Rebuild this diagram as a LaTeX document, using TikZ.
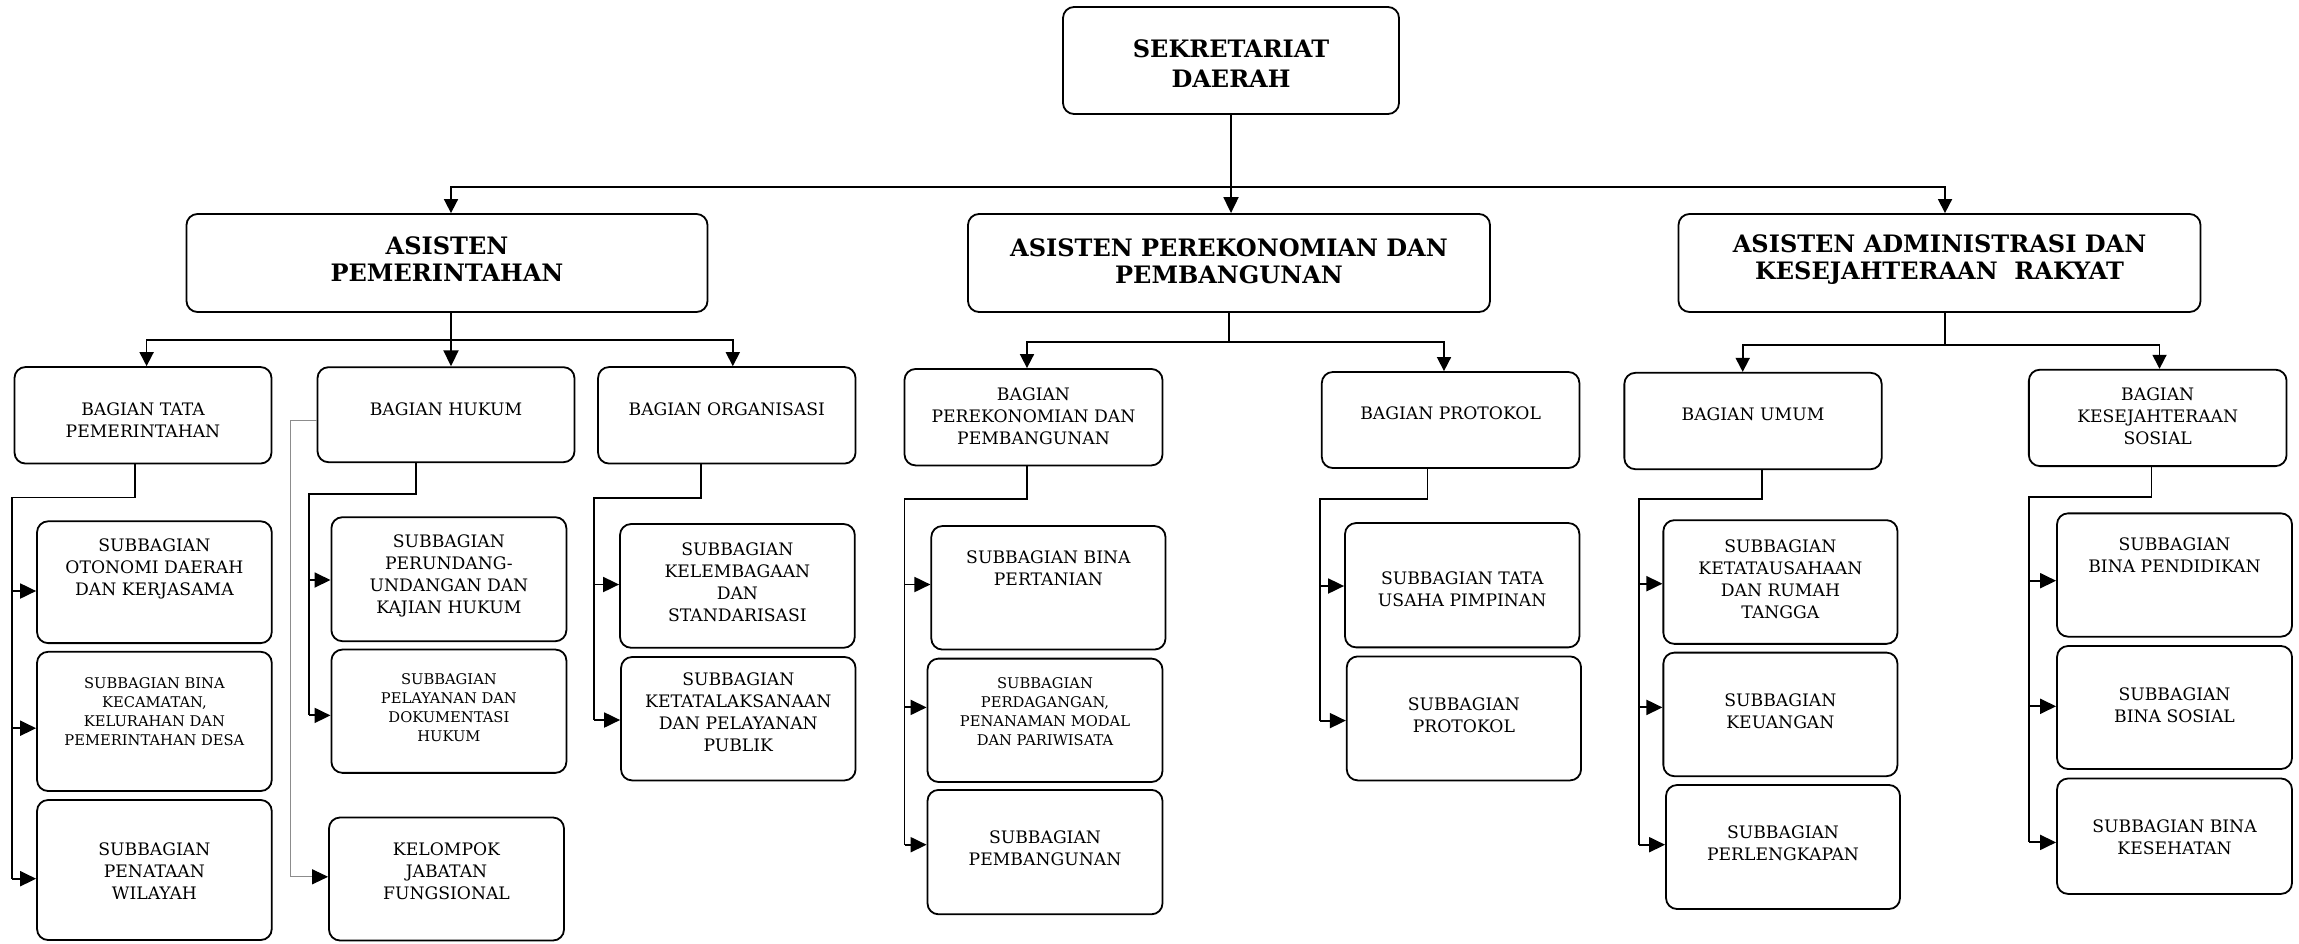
\documentclass[tikz,border=0pt]{standalone}
\usepackage{fontspec}
\setmainfont{DejaVu Serif}
\usetikzlibrary{arrows.meta}
\tikzset{
  kotak/.style={draw, rounded corners=11pt, line width=1.8pt, inner sep=0pt},
  induk/.style={font=\bfseries\fontsize{24}{30}\selectfont, align=center},
  judul/.style={font=\bfseries\fontsize{24}{27}\selectfont, align=center},
  besar/.style={font=\fontsize{17.2}{22}\selectfont, align=center},
  kecil/.style={font=\fontsize{14.7}{19}\selectfont, align=center},
  garis/.style={line width=1.9pt},
  panah/.style={line width=1.9pt, -{Triangle[length=16pt,width=15pt]}},
  duapanah/.style={line width=1.7pt, {Triangle[length=14pt,width=14pt]}-{Triangle[length=14pt,width=14pt]}},
  abu/.style={draw=black!45, line width=1pt, -{Triangle[length=16pt,width=15pt,color=black]}}
}
% #1 nama, #2 #3 pusat, #4 lebar, #5 tinggi, #6 gaya teks, #7 teks
\def\KOTAK#1#2#3#4#5#6#7{%
  \node[kotak, minimum width=#4pt, minimum height=#5pt] (#1) at (#2,#3) {};
  \node[#6] (#1-isi) at (#1) {#7};}
\begin{document}
\begin{tikzpicture}[x=1pt, y=-1pt]
\useasboundingbox (0,0) rectangle (2299,943);
% pimpinan dan asisten
\KOTAK{sekda}{1231}{60.5}{336}{107}{induk, yshift=-3pt}{SEKRETARIAT\\DAERAH}
\KOTAK{asPem}{447}{263}{521}{98}{judul, yshift=3.5pt}{ASISTEN\\PEMERINTAHAN}
\KOTAK{asEko}{1229}{263}{522}{98}{judul, yshift=1.7pt}{ASISTEN PEREKONOMIAN DAN\\PEMBANGUNAN}
\KOTAK{asAdm}{1939.5}{263}{522}{98}{judul, yshift=3.3pt}{ASISTEN ADMINISTRASI DAN\\KESEJAHTERAAN\ \ RAKYAT}
% bagian
\KOTAK{tapem}{143}{415.3}{257}{96.5}{besar, yshift=-4.5pt}{BAGIAN TATA\\PEMERINTAHAN}
\KOTAK{hukum}{446}{414.7}{257}{95}{besar, yshift=5.7pt}{BAGIAN HUKUM}
\KOTAK{organ}{726.8}{415.3}{257.5}{96.5}{besar, yshift=6.3pt}{BAGIAN ORGANISASI}
\KOTAK{bEko}{1033.5}{417.2}{258}{96.4}{besar, yshift=0.7pt}{BAGIAN\\PEREKONOMIAN DAN\\PEMBANGUNAN}
\KOTAK{protokol}{1450.6}{420}{257.6}{96}{besar, yshift=6.8pt}{BAGIAN PROTOKOL}
\KOTAK{umum}{1753}{421}{257.3}{96.4}{besar, yshift=7pt}{BAGIAN UMUM}
\KOTAK{kesos}{2157.7}{417.9}{257.7}{96.4}{besar, yshift=1.4pt}{BAGIAN\\KESEJAHTERAAN\\SOSIAL}
% subbagian
\KOTAK{oto}{154.4}{582.2}{234.7}{121.8}{besar, yshift=12.9pt}{SUBBAGIAN\\OTONOMI DAERAH\\DAN KERJASAMA}
\KOTAK{kec}{154.4}{721.4}{234.7}{139.2}{kecil, yshift=10.2pt}{SUBBAGIAN BINA\\KECAMATAN,\\KELURAHAN DAN\\PEMERINTAHAN DESA}
\KOTAK{tata}{154.4}{870}{234.7}{140}{besar, yshift=-1pt}{SUBBAGIAN\\PENATAAN\\WILAYAH}
\KOTAK{undang}{448.9}{579.2}{235}{124}{besar, yshift=3.2pt}{SUBBAGIAN\\PERUNDANG-\\UNDANGAN DAN\\KAJIAN HUKUM}
\KOTAK{layan}{448.9}{711.2}{235}{123.3}{kecil, yshift=3.8pt}{SUBBAGIAN\\PELAYANAN DAN\\DOKUMENTASI\\HUKUM}
\KOTAK{jafung}{446.5}{879}{235}{123}{besar, yshift=8pt}{KELOMPOK\\JABATAN\\FUNGSIONAL}
\KOTAK{lembaga}{737.4}{585.9}{234.8}{123.7}{besar, yshift=3.3pt}{SUBBAGIAN\\KELEMBAGAAN\\DAN\\STANDARISASI}
\KOTAK{laksana}{738.3}{718.7}{234.5}{123.4}{besar, yshift=6pt}{SUBBAGIAN\\KETATALAKSANAAN\\DAN PELAYANAN\\PUBLIK}
\KOTAK{tani}{1048.4}{587.8}{234.2}{123.5}{besar, yshift=19.4pt}{SUBBAGIAN BINA\\PERTANIAN}
\KOTAK{dagang}{1045}{720.3}{235}{123.4}{kecil, yshift=9.1pt}{SUBBAGIAN\\PERDAGANGAN,\\PENANAMAN MODAL\\DAN PARIWISATA}
\KOTAK{bangun}{1045}{852.1}{235}{124.4}{besar, yshift=3.4pt}{SUBBAGIAN\\PEMBANGUNAN}
\KOTAK{pimpin}{1462.2}{585.2}{234.4}{124.3}{besar, yshift=-4.1pt}{SUBBAGIAN TATA\\USAHA PIMPINAN}
\KOTAK{subprot}{1463.9}{718.4}{234.3}{124}{besar, yshift=3.4pt}{SUBBAGIAN\\PROTOKOL}
\KOTAK{rt}{1780.4}{582}{234.1}{123.7}{besar, yshift=3.2pt}{SUBBAGIAN\\KETATAUSAHAAN\\DAN RUMAH\\TANGGA}
\KOTAK{uang}{1780.4}{714.4}{234.1}{123.6}{besar, yshift=3.5pt}{SUBBAGIAN\\KEUANGAN}
\KOTAK{lengkap}{1783}{847}{234}{124}{besar, yshift=3.4pt}{SUBBAGIAN\\PERLENGKAPAN}
\KOTAK{didik}{2174.5}{575}{235}{123.3}{besar, yshift=19.3pt}{SUBBAGIAN\\BINA PENDIDIKAN}
\KOTAK{sosial}{2174.5}{707.5}{235}{123}{besar, yshift=2.5pt}{SUBBAGIAN\\BINA SOSIAL}
\KOTAK{sehat}{2174.5}{836.2}{235}{115.4}{besar, yshift=-0.8pt}{SUBBAGIAN BINA\\KESEHATAN}
% garis ke asisten
\coordinate (bus) at (1231,187);
\draw[panah] (sekda) -- (sekda |- asEko.north);
\draw[duapanah] ([xshift=4pt]asPem.north) |- (bus) -| ([xshift=5.5pt]asAdm.north);
% garis ke bagian
\coordinate (cPem) at (451,340);
\coordinate (cEko) at (1229,342);
\coordinate (cAdm) at (1945,345);
\draw[panah] ([xshift=4pt]asPem.south) -- (cPem |- hukum.north);
\draw[duapanah] ([xshift=3.6pt]tapem.north) |- (cPem) -| ([xshift=6pt]organ.north);
\draw[garis] (asEko) -- (cEko);
\draw[duapanah] ([xshift=-6.5pt]bEko.north) |- (cEko) -| ([xshift=-6.6pt]protokol.north);
\draw[garis] ([xshift=5.5pt]asAdm.south) -- (cAdm);
\draw[duapanah] ([xshift=-10.3pt]umum.north) |- (cAdm) -| ([xshift=1.8pt]kesos.north);
% garis ke subbagian
\coordinate (jTapem) at (12.2,497.5);
\coordinate (jHukum) at (309.2,493.7);
\coordinate (jOrgan) at (593.8,498.3);
\coordinate (jEko) at (904.5,499);
\coordinate (jProt) at (1320,499);
\coordinate (jUmum) at (1639.2,499.4);
\coordinate (jKesos) at (2028.9,496.7);
\draw[garis] ([xshift=-8.3pt]tapem.south) |- (jTapem) -- (jTapem |- 0,878.7);
\draw[garis] ([xshift=-29.6pt]hukum.south) |- (jHukum) -- (jHukum |- 0,715.4);
\draw[garis] ([xshift=-25.8pt]organ.south) |- (jOrgan) -- (jOrgan |- 0,720);
\draw[garis] ([xshift=-6.5pt]bEko.south) |- (jEko) -- (jEko |- 0,844.7);
\draw[garis] ([xshift=-23.1pt]protokol.south) |- (jProt) -- (jProt |- 0,720.6);
\draw[garis] ([xshift=8.8pt]umum.south) |- (jUmum) -- (jUmum |- 0,844.7);
\draw[garis] ([xshift=-6.2pt]kesos.south) |- (jKesos) -- (jKesos |- 0,842.4);
\foreach \j/\b/\y in {jTapem/oto/591, jTapem/kec/728.2, jTapem/tata/878.7,
    jHukum/undang/580, jHukum/layan/715.4,
    jOrgan/lembaga/584.5, jOrgan/laksana/720,
    jEko/tani/584.5, jEko/dagang/707.4, jEko/bangun/844.7,
    jProt/pimpin/586, jProt/subprot/720.6,
    jUmum/rt/583.7, jUmum/uang/707.4, jUmum/lengkap/844.7,
    jKesos/didik/580.7, jKesos/sosial/706.3, jKesos/sehat/842.4}
  \draw[panah] (\j |- 0,\y) -- (\b.west |- 0,\y);
% jabatan fungsional
\draw[abu] ([yshift=-5.3pt]hukum.west) -- ++(-26,0) |- (jafung.west |- 0,876.8);
\end{tikzpicture}
\end{document}
